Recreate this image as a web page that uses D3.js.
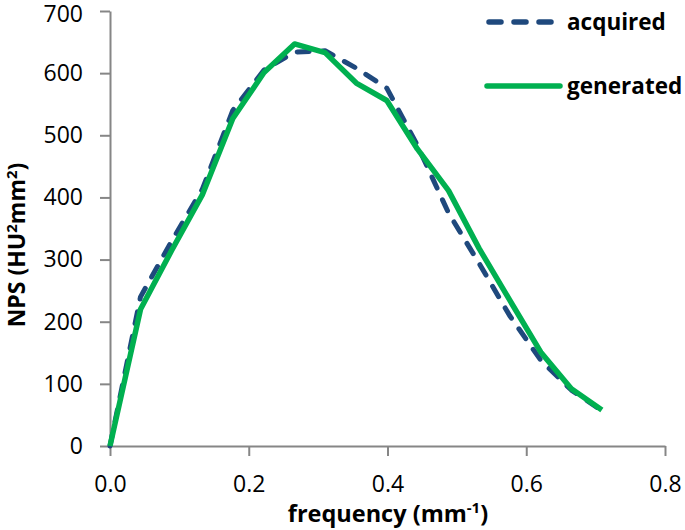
<!DOCTYPE html>
<html><head><meta charset="utf-8">
<script src="https://cdn.jsdelivr.net/npm/d3@7"></script>
<style>body{margin:0;background:#fff}svg{display:block}</style>
</head><body>
<script>
const frequency = [0, 0.044, 0.089, 0.133, 0.177, 0.222, 0.266, 0.310, 0.355, 0.399, 0.443, 0.488, 0.532, 0.576, 0.621, 0.665, 0.709];
const acquired  = [0, 240, 330, 413, 540, 605, 634, 636, 608, 576, 484, 375, 294, 210, 138, 90, 57];
const generated = [0, 220, 315, 404, 527, 601, 647, 633, 584, 556, 478, 411, 318, 235, 151, 92, 58];
const xTicks = [0, 0.2, 0.4, 0.6, 0.8];
const yTicks = [0, 100, 200, 300, 400, 500, 600, 700];
const seriesNames = ["acquired", "generated"];

const W = 685, H = 530;
const svg = d3.select("body").append("svg").attr("width", W).attr("height", H);
const x = d3.scaleLinear().domain([0, 0.8]).range([110, 665]);
const y = d3.scaleLinear().domain([0, 700]).range([446, 11]);
const axisColor = "#868686";
const font = "'Open Sans', sans-serif";

const xAxis = svg.append("g").attr("transform", `translate(0,${y(0)})`)
  .call(d3.axisBottom(x).tickValues(xTicks).tickFormat(d3.format(".1f")).tickSize(10).tickSizeOuter(0).tickPadding(19));
const yAxis = svg.append("g").attr("transform", `translate(${x(0)},0)`)
  .call(d3.axisLeft(y).tickValues(yTicks).tickSize(10).tickSizeOuter(0).tickPadding(17));
[xAxis, yAxis].forEach(g => {
  g.select(".domain").attr("stroke", axisColor).attr("stroke-width", 2);
  g.selectAll(".tick line").attr("stroke", axisColor).attr("stroke-width", 2);
  g.selectAll(".tick text").attr("fill", "#000").style("font-family", font).style("font-size", "23px");
});
xAxis.selectAll(".tick text").attr("dy", "0.75em");
yAxis.selectAll(".tick text").filter(d => d === 700).attr("dy", "0.45em");

const line = d3.line().x((d, i) => x(frequency[i])).y(d => y(d));
svg.append("path").datum(acquired).attr("d", line)
  .attr("fill", "none").attr("stroke", "#1f497d").attr("stroke-width", 5)
  .attr("stroke-dasharray", "12,13").attr("stroke-linecap", "round").attr("stroke-linejoin", "round");
svg.append("path").datum(generated).attr("d", line)
  .attr("fill", "none").attr("stroke", "#00b050").attr("stroke-width", 5.5)
  .attr("stroke-linejoin", "round");

// legend
const leg = svg.append("g");
leg.append("line").attr("x1", 489).attr("x2", 553).attr("y1", 22).attr("y2", 22)
  .attr("stroke", "#1f497d").attr("stroke-width", 5.5).attr("stroke-dasharray", "12,13").attr("stroke-linecap", "round");
leg.append("line").attr("x1", 487).attr("x2", 560).attr("y1", 86).attr("y2", 86)
  .attr("stroke", "#00b050").attr("stroke-width", 5.5).attr("stroke-linecap", "round");
leg.append("text").attr("x", 567).attr("y", 30).text(seriesNames[0])
  .style("font-family", font).style("font-weight", "bold").style("font-size", "22.5px");
leg.append("text").attr("x", 567).attr("y", 94).text(seriesNames[1])
  .style("font-family", font).style("font-weight", "bold").style("font-size", "22.5px");

// axis titles
const xt = svg.append("text").attr("x", 388).attr("y", 522).attr("text-anchor", "middle")
  .style("font-family", font).style("font-weight", "bold").style("font-size", "23.5px");
xt.append("tspan").text("frequency (mm");
xt.append("tspan").attr("dy", -9).style("font-size", "15px").text("-1");
xt.append("tspan").attr("dy", 9).text(")");

const yt = svg.append("text").attr("transform", "translate(25,245) rotate(-90)").attr("text-anchor", "middle")
  .style("font-family", font).style("font-weight", "bold").style("font-size", "23px");
yt.append("tspan").text("NPS (HU");
yt.append("tspan").attr("dy", -8).style("font-size", "15px").text("2");
yt.append("tspan").attr("dy", 8).text("mm");
yt.append("tspan").attr("dy", -8).style("font-size", "15px").text("2");
yt.append("tspan").attr("dy", 8).text(")");
</script>
</body></html>
